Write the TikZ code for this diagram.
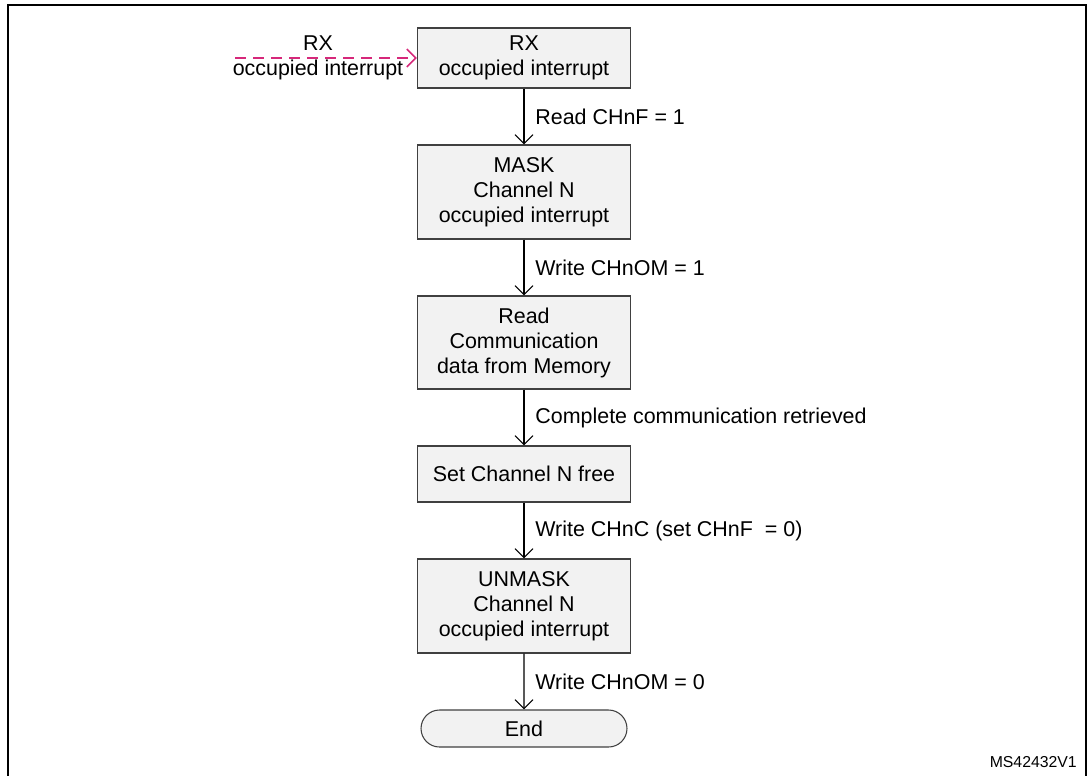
\documentclass[tikz,border=0pt]{standalone}
\usepackage{fontspec}
\setmainfont{Liberation Sans}
\usepackage{xcolor}
\usetikzlibrary{arrows.meta,positioning,shapes.misc}

\definecolor{boxfill}{HTML}{F2F2F2}
\definecolor{boxline}{HTML}{404040}
\definecolor{irqpink}{HTML}{D6287A}

\tikzset{
    stepbox/.style={draw=boxline, line width=0.6pt, fill=boxfill, align=center,
        minimum width=4.26cm, inner sep=2pt, font=\fontsize{12.2}{14.2}\selectfont},
    endbox/.style={stepbox, rounded rectangle, minimum height=0.74cm},
    flow/.style={-{Straight Barb[length=1.8mm,width=3.6mm]}, line width=0.6pt},
    flowlabel/.style={midway, right=0.1cm, font=\fontsize{12.2}{14.2}\selectfont}
}

\begin{document}
\begin{tikzpicture}
                \useasboundingbox (0,0) rectangle (21.74,-15.5);
                % frame
                \draw[line width=1.2pt] (0.16,-15.7) -- (0.16,-0.10) -- (21.73,-0.10) -- (21.73,-15.7);

                % steps
                \node[stepbox, minimum height=1.2cm] (rx) at (10.48,-1.16) {RX\\occupied interrupt};
                \node[stepbox, minimum height=1.88cm] (mask) at (10.48,-3.84) {MASK\\Channel N\\occupied interrupt};
                \node[stepbox, minimum height=1.86cm] (read) at (10.48,-6.85) {Read\\Communication\\data from Memory};
                \node[stepbox, minimum height=1.12cm] (free) at (10.48,-9.48) {Set Channel N free};
                \node[stepbox, minimum height=1.88cm] (unmask) at (10.48,-12.12) {UNMASK\\Channel N\\occupied interrupt};
                \node[endbox] (end) at (10.48,-14.57) {End};

                % incoming interrupt
                \node[align=center, font=\fontsize{12.2}{14.2}\selectfont] (rxin) at (6.36,-1.16) {RX\\occupied interrupt};
                \coordinate (rxstart) at (4.70,-1.16);
                \draw[flow, irqpink, line width=0.9pt, dash pattern=on 0.22cm off 0.14cm] (rxstart) -- (rx.west);

                \draw[flow] (rx) -- (mask) node[flowlabel] {Read CHnF = 1};
                \draw[flow] (mask) -- (read) node[flowlabel] {Write CHnOM = 1};
                \draw[flow] (read) -- (free) node[flowlabel] {Complete communication retrieved};
                \draw[flow] (free) -- (unmask) node[flowlabel] {Write CHnC (set CHnF~~= 0)};
                \draw[flow] (unmask) -- (end) node[flowlabel] {Write CHnOM = 0};

                \node[anchor=east, font=\fontsize{9}{11}\selectfont] (tag) at (21.66,-15.24) {MS42432V1};
            \end{tikzpicture}
\end{document}
